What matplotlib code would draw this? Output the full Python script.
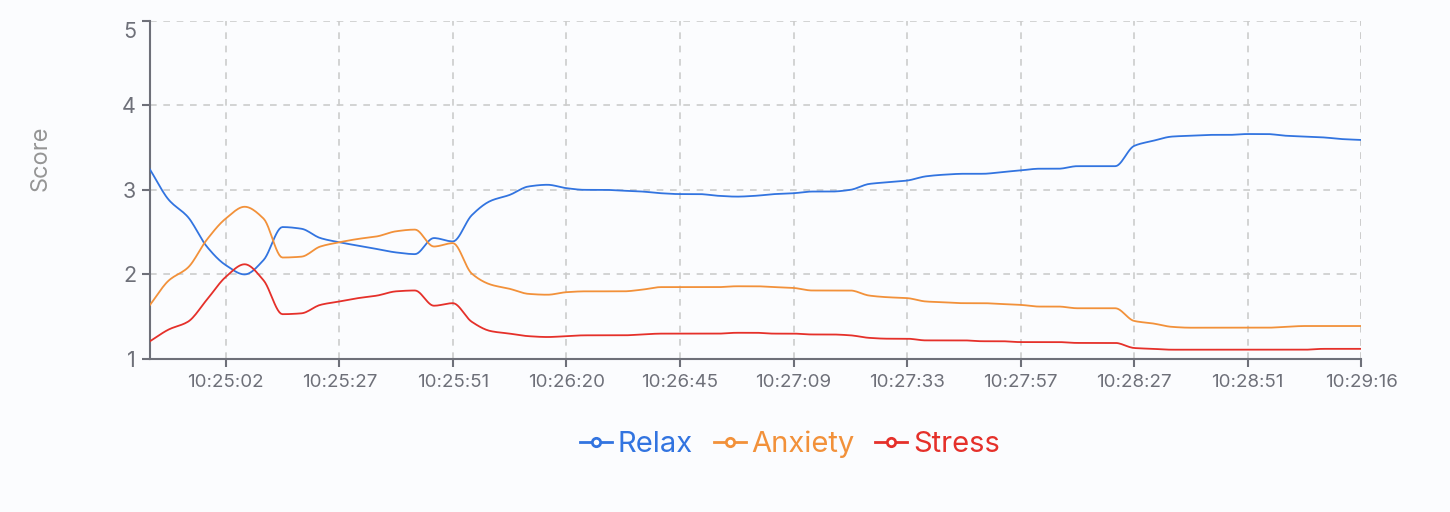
import numpy as np
import matplotlib
matplotlib.use("Agg")
import matplotlib.pyplot as plt
import matplotlib.transforms as mtransforms
from matplotlib.lines import Line2D

plt.rcParams['font.family'] = ['Inter', 'DejaVu Sans']

# data: 65 samples, category x-axis
relax = [3.24, 2.88, 2.68, 2.33, 2.11, 2.00, 2.17, 2.56, 2.54, 2.43, 2.38,
         2.34, 2.30, 2.26, 2.24, 2.43, 2.39, 2.70, 2.87, 2.94, 3.04,
         3.06, 3.02, 3.00, 3.00, 2.99, 2.98, 2.96, 2.95, 2.95, 2.93,
         2.92, 2.93, 2.95, 2.96, 2.98, 2.98, 3.00, 3.07, 3.09, 3.11,
         3.16, 3.18, 3.19, 3.19, 3.21, 3.23, 3.25, 3.25, 3.28, 3.28, 3.28,
         3.52, 3.58, 3.63, 3.64, 3.65, 3.65, 3.66, 3.66, 3.64, 3.63, 3.62, 3.60, 3.59]
anxiety = [1.64, 1.93, 2.08, 2.41, 2.66, 2.80, 2.66, 2.20, 2.21, 2.33, 2.38,
           2.42, 2.45, 2.51, 2.53, 2.33, 2.37, 2.01, 1.88, 1.83, 1.77,
           1.76, 1.79, 1.80, 1.80, 1.80, 1.82, 1.85, 1.85, 1.85, 1.85,
           1.86, 1.86, 1.85, 1.84, 1.81, 1.81, 1.81, 1.75, 1.73, 1.72,
           1.68, 1.67, 1.66, 1.66, 1.65, 1.64, 1.62, 1.62, 1.60, 1.60, 1.60,
           1.45, 1.42, 1.38, 1.37, 1.37, 1.37, 1.37, 1.37, 1.38, 1.39, 1.39, 1.39, 1.39]
stress = [1.21, 1.35, 1.44, 1.70, 1.97, 2.12, 1.93, 1.53, 1.54, 1.64, 1.68,
          1.72, 1.75, 1.80, 1.81, 1.63, 1.66, 1.44, 1.33, 1.30, 1.27,
          1.26, 1.27, 1.28, 1.28, 1.28, 1.29, 1.30, 1.30, 1.30, 1.30,
          1.31, 1.31, 1.30, 1.30, 1.29, 1.29, 1.28, 1.25, 1.24, 1.24,
          1.22, 1.22, 1.22, 1.21, 1.21, 1.20, 1.20, 1.20, 1.19, 1.19, 1.19,
          1.13, 1.12, 1.11, 1.11, 1.11, 1.11, 1.11, 1.11, 1.11, 1.11, 1.12, 1.12, 1.12]
tick_index = [4, 10, 16, 22, 28, 34, 40, 46, 52, 58, 64]
tick_labels = ['10:25:02', '10:25:27', '10:25:51', '10:26:20', '10:26:45', '10:27:09',
               '10:27:33', '10:27:57', '10:28:27', '10:28:51', '10:29:16']
series = [('Relax', relax, '#3274e0'), ('Anxiety', anxiety, '#f2913a'), ('Stress', stress, '#e5302a')]


def smooth(y, n=12):
    # monotone cubic (Fritsch-Carlson) so the curve doesn't overshoot
    y = np.asarray(y, dtype=float)
    x = np.arange(len(y), dtype=float)
    d = np.diff(y)
    m = np.zeros_like(y)
    m[0], m[-1] = d[0], d[-1]
    for i in range(1, len(y) - 1):
        if d[i - 1] * d[i] > 0:
            m[i] = 2 / (1 / d[i - 1] + 1 / d[i])
    xs, ys = [], []
    for i in range(len(y) - 1):
        t = np.linspace(0, 1, n, endpoint=False)
        h00 = 2 * t**3 - 3 * t**2 + 1
        h10 = t**3 - 2 * t**2 + t
        h01 = -2 * t**3 + 3 * t**2
        h11 = t**3 - t**2
        xs.append(x[i] + t)
        ys.append(h00 * y[i] + h10 * m[i] + h01 * y[i + 1] + h11 * m[i + 1])
    xs.append([x[-1]])
    ys.append([y[-1]])
    return np.concatenate(xs), np.concatenate(ys)


bg = '#fbfcfe'
fig = plt.figure(figsize=(14.5, 5.12), dpi=100, facecolor=bg)
ax = fig.add_axes([150 / 1450, 1 - 359 / 512, 1211.3 / 1450, 338.3 / 512])
ax.set_facecolor(bg)

handles = []
for name, vals, col in series:
    xs, ys = smooth(vals)
    ax.plot(xs, ys, color=col, lw=1.3, zorder=3)
    handles.append(Line2D([0], [0], color=col, lw=2, marker='o', markersize=6,
                          markerfacecolor='white', markeredgecolor=col, markeredgewidth=2,
                          label=name))

ax.set_xlim(0, len(relax) - 1)
ax.set_ylim(1, 5)
ax.set_yticks([1, 2, 3, 4, 5])
ax.set_xticks(tick_index)
ax.set_xticklabels(tick_labels)

axis_col = '#6e7079'
for s in ['top', 'right']:
    ax.spines[s].set_visible(False)
for s in ['left', 'bottom']:
    ax.spines[s].set_color(axis_col)
    ax.spines[s].set_linewidth(1.5)
ax.tick_params(axis='y', length=6, width=1.5, color=axis_col, labelcolor=axis_col,
               labelsize=15.5, pad=4)
ax.tick_params(axis='x', length=6, width=1.5, color=axis_col, labelcolor=axis_col,
               labelsize=13.5, pad=5)

# top label sits a little below its tick, as in the original
top_lab = ax.get_yticklabels()[-1]
top_lab.set_transform(top_lab.get_transform() +
                      mtransforms.ScaledTranslation(0, -9 / 100, fig.dpi_scale_trans))

ax.grid(True, color='#cccccc', linestyle=(0, (4, 4)), linewidth=1.2, zorder=0)
ax.set_axisbelow(True)
# right-edge gridline at the last category
ax.axvline(len(relax) - 1, color='#cccccc', linestyle=(0, (4, 4)), linewidth=1.2, zorder=0)

ax.set_ylabel('Score', fontsize=17, color='#959595')
ax.yaxis.set_label_coords(-0.081, 0.594)

fig.legend(handles=handles, loc='center', bbox_to_anchor=(790 / 1450, 1 - 444 / 512),
           ncol=3, frameon=False, fontsize=21, labelcolor='linecolor',
           handlelength=1.1, handletextpad=0.2, columnspacing=0.7)

fig.savefig('out.png', dpi=100, facecolor=bg)
